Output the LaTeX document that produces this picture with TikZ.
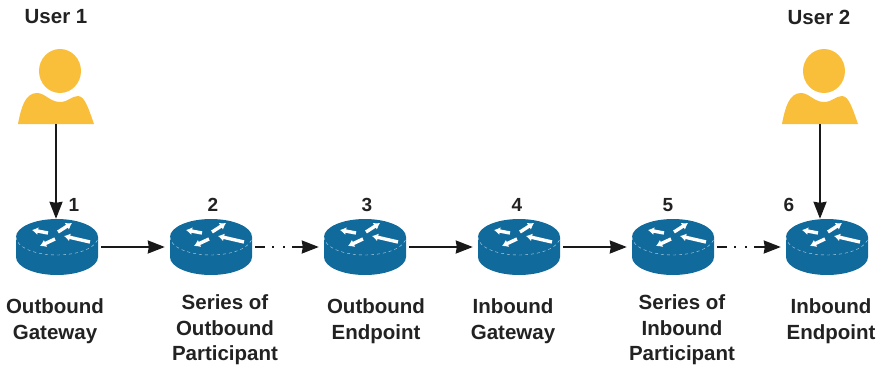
\documentclass[tikz,border=0pt]{standalone}
\usepackage{fontspec}
\setmainfont{Liberation Sans}
\usetikzlibrary{arrows.meta,positioning}
\definecolor{routerblue}{HTML}{116A9C}
\definecolor{useryellow}{HTML}{F9BE3A}
\definecolor{labelgray}{HTML}{222222}
\tikzset{
    flow/.style={line width=2pt, black!90, -{Stealth[length=17pt,width=13pt,inset=1pt]}},
    gapflow/.style={flow, dash pattern=on 10pt off 7pt on 2pt off 9pt on 2pt off 7pt on 30pt},
    routerbox/.style={minimum width=82pt, minimum height=56pt, inner sep=0pt},
    userbox/.style={minimum width=76pt, minimum height=76pt, inner sep=0pt},
    label/.style={font=\fontsize{20.5pt}{25.5pt}\selectfont\bfseries, text=labelgray, align=center, inner sep=0pt},
    number/.style={font=\fontsize{19pt}{22pt}\selectfont\bfseries, text=labelgray, inner sep=0pt},
    packet/.style={white, line width=3.4pt, -{Latex[length=6pt,width=8pt]}},
    router/.pic={
        \fill[routerblue] (-41,-10) -- (-41,10) arc[start angle=180,end angle=360,x radius=41pt,y radius=18pt] -- (41,-10) -- cycle;
        \fill[routerblue] (0,-10) circle[x radius=41pt,y radius=18pt];
        \draw[white!75!routerblue, thin, dashed] (-41,-10) arc[start angle=180,end angle=360,x radius=41pt,y radius=18pt];
        \draw[packet] (-9,-14) -- (-25,-17);
        \draw[packet] (1,-15) -- (15,-24);
        \draw[packet] (33,-5) -- (7,-11);
        \draw[packet] (-2,-8) -- (-17,-1);
    },
    user/.pic={
        \fill[useryellow] (4,-15) circle[x radius=21pt,y radius=22pt];
        \fill[useryellow] (-38,38) .. controls (-35,22) and (-31,7) .. (-19,7)
            .. controls (-11,7) and (-6,16) .. (4,16)
            .. controls (12,16) and (16,10) .. (22,10)
            .. controls (29,10) and (33,24) .. (38,38) -- cycle;
    },
}
\begin{document}
\begin{tikzpicture}[x=1pt,y=-1pt]
    \useasboundingbox (0,0) rectangle (884,367);

    \foreach \n/\x in {1/57,2/211,3/365,4/519,5/673,6/827} {
        \node[routerbox] (r\n) at (\x,247) {};
        \pic at (r\n) {router};
    }
    \foreach \n/\x in {1/56,2/820} {
        \node[userbox] (u\n) at (\x,86) {};
        \pic at (u\n) {user};
    }

    \node[label] (user1) at (56,17) {User 1};
    \node[label] (user2) at (819,17) {User 2};

    \node[number] (n1) at (74,205) {1};
    \node[number] (n2) at (213,205) {2};
    \node[number] (n3) at (367,205) {3};
    \node[number] (n4) at (517,205) {4};
    \node[number] (n5) at (668,205) {5};
    \node[number] (n6) at (789,205) {6};

    \node[label] (t1) at (55,321) {Outbound\\Gateway};
    \node[label] (t2) at (225,330) {Series of\\Outbound\\Participant};
    \node[label] (t3) at (376,321) {Outbound\\Endpoint};
    \node[label] (t4) at (513,321) {Inbound\\Gateway};
    \node[label] (t5) at (682,330) {Series of\\Inbound\\Participant};
    \node[label] (t6) at (831,321) {Inbound\\Endpoint};

    \draw[flow] (u1.south) -- (u1.south |- r1.north);
    \draw[flow] (u2.south) -- (u2.south |- r6.north);
    \draw[flow, shorten <=3pt, shorten >=5pt] (r1) -- (r2);
    \draw[gapflow, shorten <=3pt, shorten >=5pt] (r2) -- (r3);
    \draw[flow, shorten <=3pt, shorten >=5pt] (r3) -- (r4);
    \draw[flow, shorten <=3pt, shorten >=5pt] (r4) -- (r5);
    \draw[gapflow, shorten <=3pt, shorten >=5pt] (r5) -- (r6);
\end{tikzpicture}
\end{document}
